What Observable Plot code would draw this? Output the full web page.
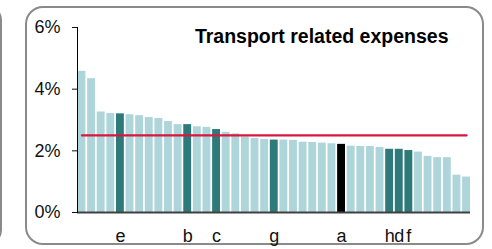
<!DOCTYPE html>
<html>
<head>
<meta charset="utf-8">
<script src="https://cdn.jsdelivr.net/npm/d3@7"></script>
<script src="https://cdn.jsdelivr.net/npm/@observablehq/plot@0.6"></script>
<style>
  html, body { margin: 0; padding: 0; background: #fff; }
  #wrap { position: relative; width: 492px; height: 249px; overflow: hidden; }
  #wrap svg { position: absolute; left: 0; top: 0; }
  .box { position: absolute; left: 25px; top: 6px; width: 459px; height: 239px;
         border: 2px solid #8a8a8a; border-radius: 18px; box-sizing: border-box; }
  .prev { position: absolute; left: -40px; top: 5px; width: 42px; height: 240px;
          border: 2px solid #8a8a8a; border-radius: 15px; box-sizing: border-box; }
</style>
</head>
<body>
<div id="wrap"><div class="prev"></div><div class="box"></div></div>
<script>
const title = "Transport related expenses";
const labels = ["", "", "", "", "e", "", "", "", "", "", "", "b", "", "", "c", "", "", "", "", "", "g",
                "", "", "", "", "", "", "a", "", "", "", "", "h", "d", "f", "", "", "", "", "", ""];
const values = [4.58, 4.34, 3.26, 3.21, 3.20, 3.17, 3.14, 3.08, 3.05, 2.95, 2.85, 2.85, 2.78, 2.76,
                2.69, 2.60, 2.55, 2.45, 2.40, 2.37, 2.35, 2.35, 2.34, 2.28, 2.27, 2.25, 2.23, 2.21,
                2.15, 2.14, 2.14, 2.11, 2.05, 2.05, 2.01, 1.96, 1.82, 1.78, 1.78, 1.21, 1.15];
const target = "a";
const average = 2.5;
const yTicks = [0, 2, 4, 6];

const data = values.map((v, i) => ({
  i, v, label: labels[i],
  kind: labels[i] === target ? "target" : (labels[i] ? "peer" : "other")
}));

const chart = Plot.plot({
  width: 492,
  height: 249,
  marginLeft: 77,
  marginRight: 22,
  marginTop: 27,
  marginBottom: 37,
  style: { fontFamily: "'Liberation Sans', Arial, sans-serif", fontSize: "18px", background: "transparent", color: "#111" },
  x: { type: "band", domain: data.map(d => d.i), range: [77.5, 470], paddingInner: 0.18, paddingOuter: 0, align: 0.5, round: false },
  y: { domain: [0, 6], range: [212, 27] },
  color: { domain: ["other", "peer", "target"], range: ["#aed6da", "#2e7a7a", "#000000"] },
  marks: [
    Plot.barY(data, { x: "i", y: "v", fill: "kind", insetLeft: 0, insetRight: 0 }),
    Plot.lineY(data, { x: "i", y: () => average, stroke: "#d8173e", strokeWidth: 2.2 }),
    Plot.ruleY([0], { stroke: "#404040", strokeWidth: 2 }),
    Plot.frame({ anchor: "left", stroke: "#000", strokeWidth: 1 }),
    Plot.axisY({ ticks: yTicks, tickFormat: d => d + "%", tickSize: 5, tickPadding: 12, label: null, fontSize: 18 }),
    Plot.axisX({ ticks: data.filter(d => d.label).map(d => d.i), tickFormat: i => labels[i], tickSize: 0, tickPadding: 17, label: null, fontSize: 18 }),
    Plot.text([title], { text: d => d, frameAnchor: "top-right", dx: -22, dy: 9, lineAnchor: "middle", textAnchor: "end", fontWeight: "bold", fontSize: 19.5, fill: "#000" })
  ]
});
document.getElementById("wrap").appendChild(chart);
</script>
</body>
</html>
